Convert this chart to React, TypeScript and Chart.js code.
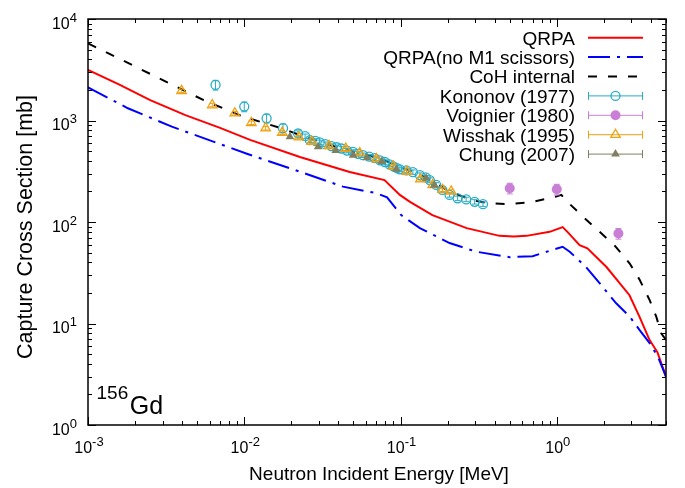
import React, { useEffect, useRef } from "react";
import { Chart, registerables } from "chart.js";

Chart.register(...registerables);

// ---------- data (energy in MeV, cross section in mb) ----------
const qrpaE = [0.001, 0.0016, 0.0025, 0.0042, 0.007, 0.0109, 0.0227, 0.0473, 0.079, 0.099, 0.115, 0.16, 0.265, 0.43, 0.53, 0.64, 0.9, 1.09, 1.17, 1.4, 1.57, 2.08, 2.92, 3.38, 3.92, 4.41, 5.0];
const qrpaS = [3150, 2240, 1590, 1130, 845, 645, 437, 311, 259, 185, 158, 117, 87, 73, 72, 73, 80, 89, 80, 59, 55, 36, 19, 11.7, 6.9, 5.2, 3.0];

const noM1E = [0.001, 0.0018, 0.00344, 0.0105, 0.0227, 0.0428, 0.0703, 0.082, 0.101, 0.133, 0.206, 0.305, 0.5, 0.7, 1.09, 1.21, 1.54, 1.92, 2.4, 2.93, 3.39, 3.93, 4.44, 5.0];
const noM1S = [2125, 1320, 870, 468, 313, 223, 192, 175, 117, 87, 62, 51, 45, 46, 57, 51, 36, 24, 15.8, 11.7, 8.6, 6.4, 4.7, 3.0];

const cohE = [0.001, 0.0055, 0.0096, 0.0126, 0.0173, 0.0227, 0.0304, 0.0473, 0.0736, 0.1, 0.13, 0.16, 0.2, 0.25, 0.3, 0.37, 0.5, 0.7, 0.99, 1.07, 1.17, 1.47, 1.88, 2.34, 2.93, 3.39, 3.93, 4.33, 4.66, 5.0];
const cohS = [5760, 1585, 1107, 973, 838, 719, 618, 500, 425, 345, 300, 250, 205, 178, 162, 153, 150, 158, 178, 185, 158, 113, 80, 59, 39, 27, 17, 11.7, 8, 6.9];

const kononovE = [0.00655, 0.01, 0.0139, 0.0177, 0.0221, 0.0245, 0.0263, 0.0285, 0.0304, 0.033, 0.0361, 0.039, 0.0419, 0.0455, 0.0497, 0.0535, 0.0575, 0.063, 0.0684, 0.074, 0.0793, 0.085, 0.0896, 0.095, 0.099, 0.109, 0.12, 0.133, 0.145, 0.154, 0.169, 0.185, 0.206, 0.232, 0.263, 0.298, 0.337];
const kononovS = [2240, 1370, 1050, 840, 745, 700, 640, 630, 610, 585, 560, 545, 530, 505, 490, 470, 455, 440, 425, 405, 390, 370, 355, 340, 330, 322, 310, 290, 275, 259, 232, 207, 185, 171, 167, 158, 150];
const kononovErr = [0.11, 0.11, 0.1, 0.1, 0.06, 0.05, 0.05, 0.05, 0.05, 0.05, 0.05, 0.05, 0.05, 0.05, 0.05, 0.05, 0.05, 0.05, 0.05, 0.05, 0.05, 0.05, 0.05, 0.05, 0.05, 0.05, 0.05, 0.05, 0.05, 0.05, 0.05, 0.05, 0.05, 0.05, 0.05, 0.05, 0.05];

const voignierE = [0.5, 1.0, 2.48];
const voignierS = [215, 210, 77];
const voignierErr = [0.12, 0.12, 0.12];

const wisshakE = [0.00397, 0.00624, 0.0087, 0.0111, 0.0137, 0.0175, 0.0224, 0.027, 0.0349, 0.0446, 0.0548, 0.0701, 0.09, 0.11, 0.134, 0.161, 0.186, 0.211];
const wisshakS = [1960, 1420, 1180, 950, 840, 760, 685, 620, 563, 530, 478, 416, 353, 313, 264, 232, 208, 200];
const wisshakErr = [0.04, 0.04, 0.04, 0.04, 0.04, 0.04, 0.04, 0.04, 0.04, 0.04, 0.04, 0.04, 0.04, 0.04, 0.04, 0.04, 0.04, 0.04];

const chungE = [0.0196, 0.0297, 0.0385, 0.0497, 0.061, 0.076, 0.094, 0.146, 0.165];
const chungS = [690, 550, 505, 455, 430, 395, 330, 270, 230];

const xTickExps = [-3, -2, -1, 0];
const yTickExps = [0, 1, 2, 3, 4];

const seriesLabels = ["QRPA", "QRPA(no M1 scissors)", "CoH internal", "Kononov (1977)", "Voignier (1980)", "Wisshak (1995)", "Chung (2007)"];

// ---------- styles ----------
const FONT = '"Liberation Sans", Arial, Helvetica, sans-serif';
const RED = "#ff0000";
const BLUE = "#0000ff";
const BLACK = "#000000";
const CYAN = "#27acc4";
const PURPLE = "#c97fd6";
const ORANGE = "#f0a010";
const OLIVE = "#7f7f62";

const pts = (xs: number[], ys: number[]) => xs.map((x, i) => ({ x, y: ys[i] }));

const errMap: Record<number, { e: number[]; s: number[]; err: number[]; color: string }> = {
  3: { e: kononovE, s: kononovS, err: kononovErr, color: CYAN },
  4: { e: voignierE, s: voignierS, err: voignierErr, color: PURPLE },
  5: { e: wisshakE, s: wisshakS, err: wisshakErr, color: ORANGE },
};

function drawMarker(ctx: CanvasRenderingContext2D, kind: string, x: number, y: number, color: string) {
  ctx.save();
  ctx.strokeStyle = color;
  ctx.fillStyle = color;
  ctx.lineWidth = 1.3;
  ctx.setLineDash([]);
  if (kind === "openCircle") {
    ctx.beginPath();
    ctx.arc(x, y, 4.5, 0, Math.PI * 2);
    ctx.stroke();
  } else if (kind === "filledCircle") {
    ctx.beginPath();
    ctx.arc(x, y, 5, 0, Math.PI * 2);
    ctx.fill();
  } else {
    const r = kind === "openTri" ? 5.5 : 5;
    ctx.beginPath();
    for (let k = 0; k < 3; k++) {
      const a = -Math.PI / 2 + (k * 2 * Math.PI) / 3;
      const px = x + Math.cos(a) * r;
      const py = y + Math.sin(a) * r;
      if (k === 0) ctx.moveTo(px, py);
      else ctx.lineTo(px, py);
    }
    ctx.closePath();
    if (kind === "openTri") ctx.stroke();
    else ctx.fill();
  }
  ctx.restore();
}

function drawPow(ctx: CanvasRenderingContext2D, exp: string, x: number, yBase: number, align: "center" | "right") {
  ctx.font = `16px ${FONT}`;
  const w1 = ctx.measureText("10").width;
  ctx.font = `13px ${FONT}`;
  const w2 = ctx.measureText(exp).width;
  const total = w1 + w2;
  const x0 = align === "center" ? x - total / 2 : x - total;
  ctx.textAlign = "left";
  ctx.textBaseline = "alphabetic";
  ctx.fillStyle = "#000";
  ctx.font = `16px ${FONT}`;
  ctx.fillText("10", x0, yBase);
  ctx.font = `13px ${FONT}`;
  ctx.fillText(exp, x0 + w1, yBase - 7);
}

const errorBarPlugin = {
  id: "errorBars",
  afterDatasetDraw(chart: any, args: any) {
    const info = errMap[args.index];
    if (!info) return;
    const { ctx, chartArea: a } = chart;
    const xs = chart.scales.x;
    const ys = chart.scales.y;
    ctx.save();
    ctx.beginPath();
    ctx.rect(a.left, a.top, a.right - a.left, a.bottom - a.top);
    ctx.clip();
    ctx.strokeStyle = info.color;
    ctx.lineWidth = 1;
    ctx.setLineDash([]);
    info.e.forEach((E, i) => {
      const s = info.s[i];
      const er = info.err[i];
      const px = xs.getPixelForValue(E);
      const y1 = ys.getPixelForValue(s * (1 - er));
      const y2 = ys.getPixelForValue(s * (1 + er));
      ctx.beginPath();
      ctx.moveTo(px, y1);
      ctx.lineTo(px, y2);
      ctx.moveTo(px - 3, y1);
      ctx.lineTo(px + 3, y1);
      ctx.moveTo(px - 3, y2);
      ctx.lineTo(px + 3, y2);
      ctx.stroke();
    });
    ctx.restore();
  },
};

const framePlugin = {
  id: "frame",
  afterDraw(chart: any) {
    const { ctx, chartArea: a } = chart;
    const xs = chart.scales.x;
    const ys = chart.scales.y;
    ctx.save();
    ctx.setLineDash([]);
    ctx.strokeStyle = "#000";
    ctx.lineWidth = 1;
    const major = 8;
    const minor = 4;
    // x ticks (bottom and top)
    for (let d = -3; d <= 0; d++) {
      for (let m = 1; m <= 9; m++) {
        const v = m * Math.pow(10, d);
        if (v > 5.0001) break;
        const px = Math.round(xs.getPixelForValue(v)) + 0.5;
        const len = m === 1 ? major : minor;
        ctx.beginPath();
        ctx.moveTo(px, a.bottom);
        ctx.lineTo(px, a.bottom - len);
        ctx.moveTo(px, a.top);
        ctx.lineTo(px, a.top + len);
        ctx.stroke();
      }
    }
    // y ticks (left and right)
    for (let d = 0; d <= 4; d++) {
      for (let m = 1; m <= 9; m++) {
        const v = m * Math.pow(10, d);
        if (v > 10000.001) break;
        const py = Math.round(ys.getPixelForValue(v)) + 0.5;
        const len = m === 1 ? major : minor;
        ctx.beginPath();
        ctx.moveTo(a.left, py);
        ctx.lineTo(a.left + len, py);
        ctx.moveTo(a.right, py);
        ctx.lineTo(a.right - len, py);
        ctx.stroke();
      }
    }
    // frame
    ctx.lineWidth = 1.5;
    ctx.strokeRect(a.left, a.top, a.right - a.left, a.bottom - a.top);

    // tick labels
    xTickExps.forEach((e) => {
      const px = xs.getPixelForValue(Math.pow(10, e));
      drawPow(ctx, String(e), px + 1, a.bottom + 28, "center");
    });
    yTickExps.forEach((e) => {
      const py = ys.getPixelForValue(Math.pow(10, e));
      drawPow(ctx, String(e), a.left - 11, py + 9.5, "right");
    });

    // axis titles
    ctx.fillStyle = "#000";
    ctx.font = `19px ${FONT}`;
    ctx.textAlign = "center";
    ctx.textBaseline = "alphabetic";
    ctx.fillText("Neutron Incident Energy [MeV]", (a.left + a.right) / 2 + 2, 479.5);
    ctx.save();
    ctx.translate(31.5, 227);
    ctx.rotate(-Math.PI / 2);
    ctx.font = `21.5px ${FONT}`;
    ctx.fillText("Capture Cross Section [mb]", 0, 0);
    ctx.restore();

    // nucleus label
    ctx.textAlign = "left";
    ctx.font = `19px ${FONT}`;
    ctx.fillText("156", 96.5, 398.5);
    const w156 = ctx.measureText("156").width;
    ctx.font = `25px ${FONT}`;
    ctx.fillText("Gd", 96.5 + w156 + 1.5, 413.5);

    // legend
    const textRight = 575;
    const sL = 588;
    const sR = 643;
    const sC = (sL + sR) / 2;
    const y0 = 37.7;
    const step = 19.4;
    const kinds = ["line", "line", "line", "openCircle", "filledCircle", "openTri", "filledTri"];
    const colors = [RED, BLUE, BLACK, CYAN, PURPLE, ORANGE, OLIVE];
    const dashes = [[], [22, 7, 3, 7], [9, 11]];
    seriesLabels.forEach((lab, i) => {
      const y = y0 + i * step;
      ctx.fillStyle = "#000";
      ctx.font = `19px ${FONT}`;
      ctx.textAlign = "right";
      ctx.fillText(lab, textRight, y + 6.8);
      ctx.strokeStyle = colors[i];
      if (kinds[i] === "line") {
        ctx.lineWidth = 2;
        ctx.setLineDash(dashes[i]);
        ctx.beginPath();
        ctx.moveTo(sL, y);
        ctx.lineTo(sR, y);
        ctx.stroke();
        ctx.setLineDash([]);
      } else {
        ctx.lineWidth = 1;
        ctx.beginPath();
        ctx.moveTo(sL, y);
        ctx.lineTo(sR, y);
        ctx.moveTo(sL + 0.5, y - 4);
        ctx.lineTo(sL + 0.5, y + 4);
        ctx.moveTo(sR - 0.5, y - 4);
        ctx.lineTo(sR - 0.5, y + 4);
        ctx.stroke();
        drawMarker(ctx, kinds[i], sC, y, colors[i]);
      }
    });
    ctx.restore();
  },
};

export default function App() {
  const ref = useRef<HTMLCanvasElement | null>(null);

  useEffect(() => {
    if (!ref.current) return;
    const lineDs = (label: string, xs: number[], ys: number[], color: string, dash: number[], order: number) => ({
      type: "line" as const,
      label,
      data: pts(xs, ys),
      borderColor: color,
      backgroundColor: color,
      borderWidth: 2,
      borderDash: dash,
      pointRadius: 0,
      tension: 0,
      fill: false,
      order,
    });
    const chart = new Chart(ref.current, {
      type: "line",
      data: {
        datasets: [
          lineDs(seriesLabels[0], qrpaE, qrpaS, RED, [], 10),
          lineDs(seriesLabels[1], noM1E, noM1S, BLUE, [22, 7, 3, 7], 9),
          lineDs(seriesLabels[2], cohE, cohS, BLACK, [9, 11], 8),
          {
            type: "scatter" as const,
            label: seriesLabels[3],
            data: pts(kononovE, kononovS),
            showLine: false,
            pointStyle: "circle",
            pointRadius: 4.5,
            pointBorderWidth: 1.3,
            borderColor: CYAN,
            backgroundColor: "rgba(0,0,0,0)",
            order: 4,
          },
          {
            type: "scatter" as const,
            label: seriesLabels[4],
            data: pts(voignierE, voignierS),
            showLine: false,
            pointStyle: "circle",
            pointRadius: 5,
            pointBorderWidth: 0,
            borderColor: PURPLE,
            backgroundColor: PURPLE,
            order: 3,
          },
          {
            type: "scatter" as const,
            label: seriesLabels[5],
            data: pts(wisshakE, wisshakS),
            showLine: false,
            pointStyle: "triangle",
            pointRadius: 5.5,
            pointBorderWidth: 1.3,
            borderColor: ORANGE,
            backgroundColor: "rgba(0,0,0,0)",
            order: 2,
          },
          {
            type: "scatter" as const,
            label: seriesLabels[6],
            data: pts(chungE, chungS),
            showLine: false,
            pointStyle: "triangle",
            pointRadius: 5,
            pointBorderWidth: 0,
            borderColor: OLIVE,
            backgroundColor: OLIVE,
            order: 1,
          },
        ],
      },
      options: {
        animation: false,
        responsive: false,
        devicePixelRatio: 1,
        events: [],
        layout: { padding: { left: 88, top: 19, right: 19, bottom: 63 } },
        plugins: { legend: { display: false }, tooltip: { enabled: false } },
        scales: {
          x: { type: "logarithmic", min: 0.001, max: 5, display: false },
          y: { type: "logarithmic", min: 1, max: 10000, display: false },
        },
      },
      plugins: [errorBarPlugin, framePlugin],
    } as any);
    return () => chart.destroy();
  }, []);

  return (
    <div style={{ position: "absolute", left: 0, top: 0, width: 685, height: 488, background: "#fff" }}>
      <canvas ref={ref} width={685} height={488} style={{ display: "block" }} />
    </div>
  );
}
